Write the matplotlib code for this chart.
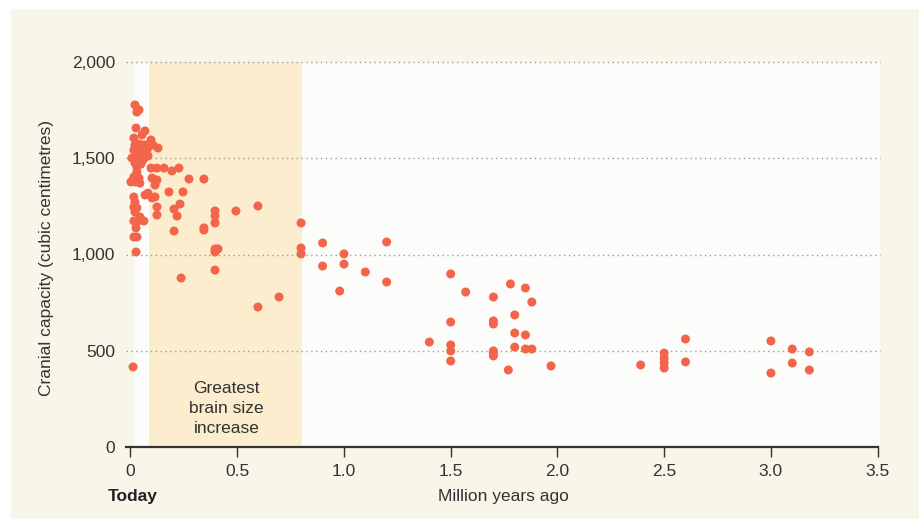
import matplotlib
matplotlib.use("Agg")
import matplotlib.pyplot as plt
from matplotlib.patches import Rectangle

plt.rcParams['font.family'] = ['Liberation Sans', 'DejaVu Sans']

# Million years ago
age = [
    0.021, 0.030, 0.040, 0.026, 0.068, 0.054, 0.016, 0.096, 0.021, 0.040,
    0.054, 0.068, 0.082, 0.105, 0.129, 0.016, 0.030, 0.044, 0.059, 0.077,
    0.021, 0.044, 0.068, 0.082, 0.007, 0.021, 0.030, 0.030, 0.059, 0.049,
    0.016, 0.040, 0.002, 0.021, 0.044, 0.101, 0.124, 0.115, 0.096, 0.124,
    0.157, 0.194, 0.227, 0.274, 0.344, 0.180, 0.246, 0.016, 0.021, 0.016,
    0.030, 0.021, 0.068, 0.082, 0.101, 0.115, 0.124, 0.204, 0.232, 0.218,
    0.124, 0.044, 0.063, 0.016, 0.030, 0.026, 0.204, 0.016, 0.030, 0.026,
    0.012, 0.396, 0.396, 0.396, 0.344, 0.344, 0.494, 0.597, 0.799, 0.396,
    0.410, 0.396, 0.799, 0.799, 0.237, 0.396, 0.696, 0.597,
    0.90, 0.90, 1.00, 1.00, 0.98, 1.10, 1.20, 1.20, 1.40, 1.50,
    1.50, 1.50, 1.50, 1.50, 1.57, 1.70, 1.70, 1.70, 1.70, 1.70,
    1.70, 1.77, 1.78, 1.85, 1.88, 1.80, 1.80, 1.85, 1.80, 1.85,
    1.88, 1.97, 2.39, 2.50, 2.50, 2.50, 2.50, 2.60, 2.60, 3.00,
    3.00, 3.10, 3.10, 3.18, 3.18,
]

# Cranial capacity (cubic centimetres)
capacity = [
    1777, 1740, 1751, 1657, 1642, 1621, 1605, 1595, 1569, 1574,
    1569, 1569, 1558, 1569, 1553, 1543, 1538, 1543, 1532, 1543,
    1506, 1512, 1506, 1512, 1501, 1475, 1455, 1429, 1491, 1470,
    1403, 1397, 1377, 1377, 1371, 1397, 1387, 1361, 1449, 1449,
    1449, 1434, 1449, 1392, 1392, 1325, 1325, 1299, 1273, 1247,
    1242, 1221, 1309, 1319, 1294, 1299, 1247, 1236, 1262, 1200,
    1205, 1195, 1174, 1174, 1169, 1138, 1122, 1091, 1091, 1013,
    416, 1226, 1200, 1164, 1138, 1127, 1226, 1252, 1164, 1029,
    1029, 1013, 1034, 1003, 878, 919, 779, 727,
    1060, 940, 1003, 950, 810, 909, 1065, 857, 545, 899,
    649, 530, 499, 447, 805, 779, 655, 639, 499, 488,
    473, 400, 847, 826, 753, 686, 592, 582, 519, 509,
    509, 421, 426, 488, 462, 436, 410, 561, 442, 551,
    384, 509, 436, 494, 400,
]

x_ticks = [0, 0.5, 1.0, 1.5, 2.0, 2.5, 3.0, 3.5]
x_tick_labels = ["0", "0.5", "1.0", "1.5", "2.0", "2.5", "3.0", "3.5"]
y_ticks = [0, 500, 1000, 1500, 2000]
y_tick_labels = ["0", "500", "1,000", "1,500", "2,000"]

shade_span = (0.087, 0.803)

W, H = 920, 519
X0, X1 = -0.021, 3.511

fig = plt.figure(figsize=(W / 100, H / 100), dpi=100)
fig.patch.set_facecolor('white')
bg = Rectangle((11 / W, 0), 1 - 11 / W, (H - 9) / H,
               transform=fig.transFigure, facecolor='#f8f5e9',
               edgecolor='none', zorder=-10)
fig.patches.append(bg)

ax = fig.add_axes([126 / W, 1 - 447 / H, 754 / W, 385 / H])
ax.set_zorder(5)
ax.set_facecolor('none')
ax.set_xlim(X0, X1)
ax.set_ylim(0, 2000)

ax.add_patch(Rectangle((0.016, 0), X1 - 0.016, 2000, facecolor='#fcfcfa',
                       edgecolor='none', zorder=0))
ax.add_patch(Rectangle((shade_span[0], 0), shade_span[1] - shade_span[0], 2000,
                       facecolor='#fbedcd', edgecolor='none', zorder=0.5))

for yv in y_ticks[1:]:
    ax.axhline(yv, color='#9a9a9a', lw=1.0, ls=(0, (1, 2.5)), zorder=1, clip_on=False)

ax.scatter(age, capacity, s=42, color='#f2654a', edgecolors='none', zorder=3)

ax.text(0.45, 200, "Greatest\nbrain size\nincrease", ha='center', va='center',
        fontsize=12.5, color='#333333', linespacing=1.4, zorder=2)

for side in ['top', 'right', 'left']:
    ax.spines[side].set_visible(False)
ax.spines['bottom'].set_color('#333333')
ax.spines['bottom'].set_linewidth(1.6)
ax.spines['bottom'].set_bounds(X0, 3.5)

ax.set_xticks(x_ticks)
ax.set_xticklabels(x_tick_labels)
ax.set_yticks(y_ticks)
ax.set_yticklabels(y_tick_labels)
ax.tick_params(axis='x', length=7, width=1, color='#333333', labelsize=12.5,
               labelcolor='#333333', pad=5)
ax.tick_params(axis='y', length=0, labelsize=12.5, labelcolor='#333333', pad=8)

fig.text(133 / W, 1 - 496 / H, "Today", ha='center', va='center',
         fontsize=12.5, fontweight='bold', color='#222222')
fig.text(503 / W, 1 - 496 / H, "Million years ago", ha='center', va='center',
         fontsize=12.5, color='#333333')
fig.text(47 / W, 1 - 258 / H, "Cranial capacity (cubic centimetres)",
         ha='center', va='center', rotation=90, fontsize=12.5, color='#333333')

fig.savefig('out.png', dpi=100, facecolor=fig.get_facecolor())
